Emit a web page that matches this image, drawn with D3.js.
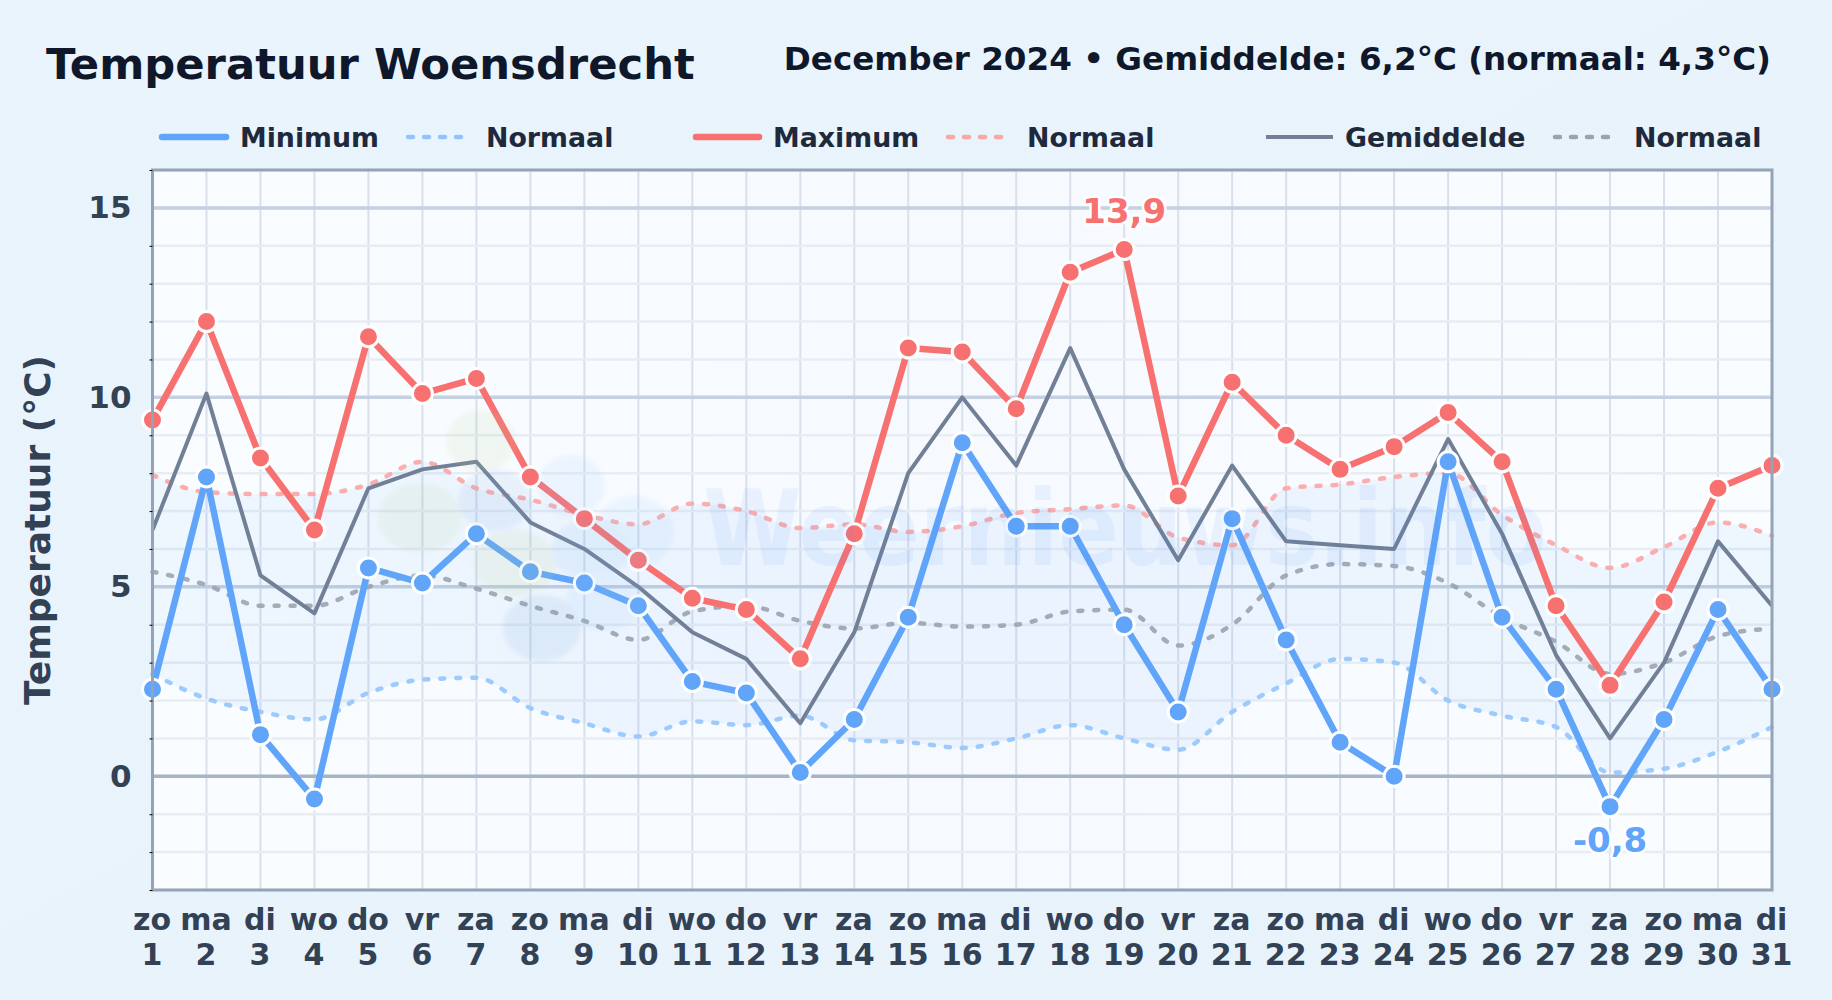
<!DOCTYPE html>
<html>
<head>
<meta charset="utf-8">
<title>Temperatuur Woensdrecht</title>
<script src="https://d3js.org/d3.v7.min.js"></script>
<style>
    html, body { margin: 0; padding: 0; background: #e8f3fc; }
    svg { display: block; }
    text { font-family: "DejaVu Sans", sans-serif; font-weight: bold; }
</style>
</head>
<body>
<div id="chart"></div>
<script>
// values
var days = d3.range(1, 32);
var weekdays = ['zo','ma','di','wo','do','vr','za','zo','ma','di','wo','do','vr','za','zo','ma','di','wo','do','vr','za','zo','ma','di','wo','do','vr','za','zo','ma','di'];
var tempMin = [2.3,7.9,1.1,-0.6,5.5,5.1,6.4,5.4,5.1,4.5,2.5,2.2,0.1,1.5,4.2,8.8,6.6,6.6,4.0,1.7,6.8,3.6,0.9,0.0,8.3,4.2,2.3,-0.8,1.5,4.4,2.3];
var tempMax = [9.4,12.0,8.4,6.5,11.6,10.1,10.5,7.9,6.8,5.7,4.7,4.4,3.1,6.4,11.3,11.2,9.7,13.3,13.9,7.4,10.4,9.0,8.1,8.7,9.6,8.3,4.5,2.4,4.6,7.6,8.2];
var tempAvg = [6.5,10.1,5.3,4.3,7.6,8.1,8.3,6.7,6.0,5.0,3.8,3.1,1.4,3.8,8.0,10.0,8.2,11.3,8.1,5.7,8.2,6.2,6.1,6.0,8.9,6.4,3.2,1.0,3.0,6.2,4.5];
var normMin = [2.7,2.05,1.7,1.5,2.2,2.55,2.6,1.8,1.4,1.05,1.45,1.35,1.6,0.95,0.9,0.75,1.0,1.35,1.0,0.7,1.7,2.45,3.1,3.0,2.0,1.6,1.3,0.1,0.2,0.65,1.3];
var normMax = [7.95,7.5,7.45,7.45,7.7,8.3,7.6,7.3,6.9,6.65,7.2,7.0,6.55,6.65,6.45,6.6,6.95,7.05,7.15,6.3,6.1,7.6,7.7,7.9,8.0,6.9,6.1,5.5,6.05,6.7,6.35];
var normAvg = [5.4,5.05,4.5,4.5,5.0,5.3,4.95,4.5,4.1,3.6,4.35,4.5,4.1,3.9,4.05,3.95,4.0,4.35,4.4,3.45,4.0,5.3,5.6,5.55,5.1,4.2,3.55,2.7,3.0,3.7,3.9];
var majorTicks = [0, 5, 10, 15];
var minorTicks = d3.range(-3, 17).filter(v => v % 5 != 0);

var svgWidth = 1832;
var svgHeight = 1000;
var margin = { top: 170, right: 60, bottom: 110, left: 152.5 };
var chartWidth = svgWidth - margin.left - margin.right;
var chartHeight = svgHeight - margin.top - margin.bottom;

var xScale = d3.scaleLinear().domain([1, 31]).range([0, chartWidth]);
var yScale = d3.scaleLinear().domain([-3, 16]).range([chartHeight, 0]);

var $svg = d3.select('#chart').append('svg')
    .attr('width', svgWidth)
    .attr('height', svgHeight);

// backgrounds
var defs = $svg.append('defs');
var pageGrad = defs.append('linearGradient').attr('id', 'pagebg').attr('x1', 0).attr('y1', 0).attr('x2', 1).attr('y2', 1);
pageGrad.append('stop').attr('offset', '0%').attr('stop-color', '#e9f4fd');
pageGrad.append('stop').attr('offset', '100%').attr('stop-color', '#e7f2fb');
var plotGrad = defs.append('linearGradient').attr('id', 'plotbg').attr('x1', 0).attr('y1', 0).attr('x2', 1).attr('y2', 0);
plotGrad.append('stop').attr('offset', '0%').attr('stop-color', '#fafdff');
plotGrad.append('stop').attr('offset', '50%').attr('stop-color', '#f6faff');
plotGrad.append('stop').attr('offset', '100%').attr('stop-color', '#fafdff');
defs.append('filter').attr('id', 'soft').append('feGaussianBlur').attr('stdDeviation', 2);

$svg.append('rect').attr('width', svgWidth).attr('height', svgHeight).attr('fill', 'url(#pagebg)');

var $chartg = $svg.append('g').attr('transform', `translate(${margin.left}, ${margin.top})`);

$chartg.append('rect')
    .attr('width', chartWidth)
    .attr('height', chartHeight)
    .attr('fill', 'url(#plotbg)');

// gridlines
$chartg.append('g').selectAll('line').data(days).enter().append('line')
    .attr('x1', d => xScale(d)).attr('x2', d => xScale(d))
    .attr('y1', 0).attr('y2', chartHeight)
    .attr('stroke', '#d8e0ec').attr('stroke-width', 2);
$chartg.append('g').selectAll('line').data(minorTicks).enter().append('line')
    .attr('x1', 0).attr('x2', chartWidth)
    .attr('y1', d => yScale(d)).attr('y2', d => yScale(d))
    .attr('stroke', '#e8edf4').attr('stroke-width', 2.5);
$chartg.append('g').selectAll('line').data(majorTicks).enter().append('line')
    .attr('x1', 0).attr('x2', chartWidth)
    .attr('y1', d => yScale(d)).attr('y2', d => yScale(d))
    .attr('stroke', d => d == 0 ? '#a8b3c6' : '#c5d1e0')
    .attr('stroke-width', 3.5);

// watermark: logo blobs plus the site name
var blobColors = ['#b5d08f', '#b5d08f', '#7fa9dc', '#93c5fd', '#93c5fd', '#b5d08f', '#7fb4ec', '#93c5fd', '#6f9fd0'];
var blobX = [481, 420, 495, 571, 634, 515, 590, 605, 542];
var blobY = [441, 518, 500, 486, 532, 563, 550, 602, 628];
var blobRx = [35, 42, 37, 34, 40, 42, 38, 40, 39];
var blobRy = [31, 35, 31, 31, 36, 33, 31, 29, 33];
var $wm = $svg.append('g').attr('opacity', 0.12).attr('filter', 'url(#soft)');
blobX.forEach((cx, i) => {
    $wm.append('ellipse')
        .attr('cx', cx).attr('cy', blobY[i])
        .attr('rx', blobRx[i]).attr('ry', blobRy[i])
        .attr('fill', blobColors[i]);
});
$svg.append('text')
    .attr('x', 703).attr('y', 565)
    .attr('textLength', 844)
    .attr('lengthAdjust', 'spacingAndGlyphs')
    .style('font-size', '106px')
    .attr('fill', '#3b82f6')
    .attr('opacity', 0.075)
    .text('Weernieuws.info');

// band between normal min and normal max
$chartg.append('path')
    .attr('d', d3.area()
        .x((d, i) => xScale(days[i]))
        .y0((d, i) => yScale(normMin[i]))
        .y1((d, i) => yScale(normMax[i]))
        .curve(d3.curveMonotoneX)(days))
    .attr('fill', '#3b82f6')
    .attr('opacity', 0.06);

function drawLine(values, color, width, dashed, smooth) {
    var line = d3.line()
        .x((d, i) => xScale(days[i]))
        .y(d => yScale(d));
    if (smooth) line.curve(d3.curveMonotoneX);
    var p = $chartg.append('path')
        .attr('d', line(values))
        .attr('fill', 'none')
        .attr('stroke', color)
        .attr('stroke-width', width)
        .attr('stroke-linejoin', 'round');
    if (dashed) {
        p.attr('stroke-dasharray', '4 12').attr('stroke-linecap', 'round').attr('opacity', 0.9);
    }
    return p;
}

function drawDots(values, color) {
    $chartg.append('g').selectAll('circle').data(values).enter().append('circle')
        .attr('cx', (d, i) => xScale(days[i]))
        .attr('cy', d => yScale(d))
        .attr('r', 10)
        .attr('fill', color)
        .attr('stroke', '#fff')
        .attr('stroke-width', 3);
}

drawLine(normMin, '#93c5fd', 4.5, true, true);
drawLine(normMax, '#fca5a5', 4.5, true, true);
drawLine(normAvg, '#9ca3af', 4.5, true, true);
drawLine(tempAvg, '#718096', 4, false, false);
drawLine(tempMin, '#60a5fa', 6.5, false, false);
drawLine(tempMax, '#f87171', 6.5, false, false);
drawDots(tempMin, '#60a5fa');
drawDots(tempMax, '#f87171');

// plot border and axes
$chartg.append('rect')
    .attr('width', chartWidth)
    .attr('height', chartHeight)
    .attr('fill', 'none')
    .attr('stroke', '#94a3b8')
    .attr('stroke-width', 3);

var yAxisMinor = d3.axisLeft(yScale).tickValues(minorTicks).tickSize(3).tickFormat('');
$chartg.append('g').call(yAxisMinor).call(g => g.select('.domain').remove());

var yAxis = d3.axisLeft(yScale).tickValues(majorTicks).tickSize(0).tickPadding(21);
var yAxisG = $chartg.append('g').call(yAxis);
yAxisG.select('.domain').remove();
yAxisG.selectAll('text')
    .style('font-family', '"DejaVu Sans", sans-serif')
    .style('font-size', '31px')
    .attr('fill', '#334155');

var xAxis = d3.axisBottom(xScale).tickValues(days).tickSize(0).tickFormat('');
var xAxisG = $chartg.append('g').attr('transform', `translate(-1, ${chartHeight})`).call(xAxis);
xAxisG.select('.domain').remove();
xAxisG.selectAll('.tick').each(function (d, i) {
    var t = d3.select(this).select('text')
        .attr('y', 0).attr('dy', null)
        .attr('text-anchor', 'middle')
        .style('font-size', '30px')
        .style('font-family', '"DejaVu Sans", sans-serif')
        .attr('fill', '#334155');
    t.append('tspan').attr('x', 0).attr('y', 40).text(weekdays[i]);
    t.append('tspan').attr('x', 0).attr('y', 75).text(d);
});

// extreme labels
function extremeLabel(i, values, dy, color) {
    $chartg.append('text')
        .attr('x', xScale(days[i]))
        .attr('y', yScale(values[i]) + dy)
        .attr('text-anchor', 'middle')
        .style('font-size', '34px')
        .attr('fill', color)
        .attr('stroke', '#fff')
        .attr('stroke-width', 5)
        .attr('paint-order', 'stroke')
        .attr('stroke-linejoin', 'round')
        .text(String(values[i]).replace('.', ','));
}
extremeLabel(tempMax.indexOf(d3.max(tempMax)), tempMax, -27, '#f87171');
extremeLabel(tempMin.indexOf(d3.min(tempMin)), tempMin, 45, '#60a5fa');

// titles
$svg.append('text')
    .attr('x', 46).attr('y', 79)
    .style('font-size', '43.3px')
    .attr('fill', '#0f172a')
    .text('Temperatuur Woensdrecht');
$svg.append('text')
    .attr('x', 1771).attr('y', 70)
    .attr('text-anchor', 'end')
    .style('font-size', '32.6px')
    .attr('fill', '#0f172a')
    .text('December 2024 \u2022 Gemiddelde: 6,2\u00b0C (normaal: 4,3\u00b0C)');
$svg.append('text')
    .attr('transform', `translate(50, ${margin.top + chartHeight / 2}) rotate(-90)`)
    .attr('text-anchor', 'middle')
    .style('font-size', '36px')
    .attr('fill', '#334155')
    .text('Temperatuur (\u00b0C)');

// legend
var legendLabels = ['Minimum', 'Normaal', 'Maximum', 'Normaal', 'Gemiddelde', 'Normaal'];
var legendColors = ['#60a5fa', '#93c5fd', '#f87171', '#fca5a5', '#718096', '#9ca3af'];
var legendWidths = [6.5, 4.5, 6.5, 4.5, 4, 4.5];
var legendDashed = [false, true, false, true, false, true];
var legendX1 = [162, 408, 696, 948, 1266, 1555];
var legendX2 = [226, 464, 759, 1005, 1333, 1618];
var legendTextX = [240, 486, 773, 1027, 1345, 1634];
legendLabels.forEach((label, i) => {
    var l = $svg.append('line')
        .attr('x1', legendX1[i]).attr('x2', legendX2[i])
        .attr('y1', 137).attr('y2', 137)
        .attr('stroke', legendColors[i])
        .attr('stroke-width', legendWidths[i])
        .attr('stroke-linecap', i == 4 ? 'butt' : 'round');
    if (legendDashed[i]) l.attr('stroke-dasharray', '5 11');
    $svg.append('text')
        .attr('x', legendTextX[i]).attr('y', 146.5)
        .style('font-size', '26.8px')
        .attr('fill', '#1e293b')
        .text(label);
});
</script>
</body>
</html>
